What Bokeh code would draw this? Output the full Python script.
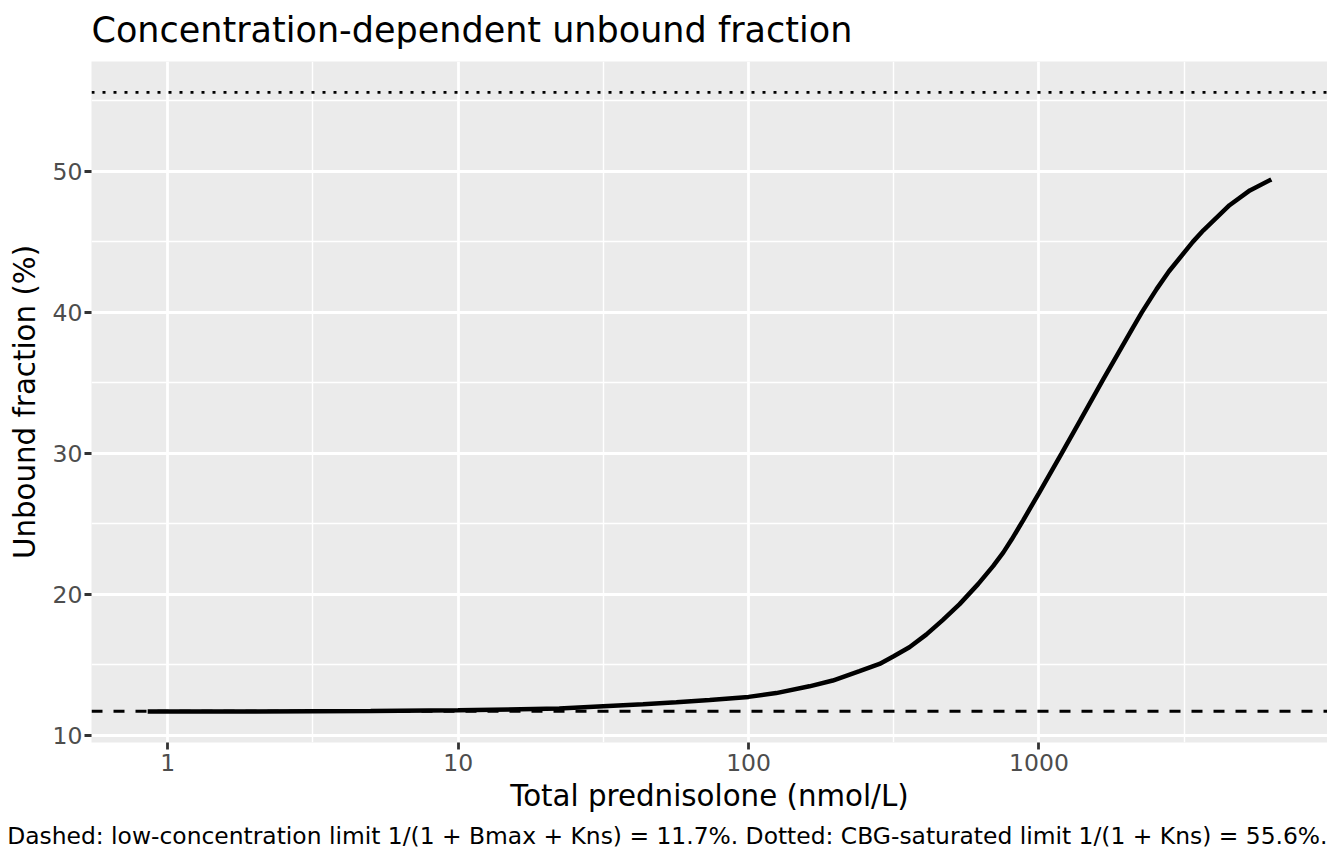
import math
from bokeh.plotting import figure
from bokeh.layouts import row
from bokeh.models import Span, Title, FixedTicker, NumeralTickFormatter, Range1d, Spacer
from bokeh.embed import file_html
from bokeh.resources import INLINE

# ---- data ----
conc = [0.853, 2, 5, 10, 22.3, 31.6, 43.3, 56.4, 73.5, 100, 124.5, 162, 195,
        241, 282.5, 316, 358, 409, 466, 533, 617, 695, 754, 805, 881, 1000,
        1197, 1384, 1664, 2104, 2260, 2541, 2800, 3386, 3683, 4530, 5323, 6310]
fu_pct = [11.68, 11.69, 11.72, 11.77, 11.89, 12.06, 12.19, 12.34, 12.50, 12.72,
          12.99, 13.47, 13.88, 14.54, 15.06, 15.6, 16.24, 17.14, 18.17, 19.3,
          20.72, 22.0, 22.97, 23.88, 25.23, 27.18, 30.0, 32.3, 35.24, 38.9, 40.0,
          41.65, 42.9, 45.0, 45.82, 47.6, 48.65, 49.43]
low_limit = 11.7      # dashed
sat_limit = 55.6      # dotted
x_ticks = [1, 10, 100, 1000]
x_minor = [10 ** 0.5, 10 ** 1.5, 10 ** 2.5, 10 ** 3.5]
y_ticks = [10, 20, 30, 40, 50]
y_minor = [15, 25, 35, 45, 55]

title_text = "Concentration-dependent unbound fraction"
x_label = "Total prednisolone (nmol/L)"
y_label = "Unbound fraction (%)"
caption = ("Dashed: low-concentration limit 1/(1 + Bmax + Kns) = 11.7%. "
           "Dotted: CBG-saturated limit 1/(1 + Kns) = 55.6%.")

# ggplot-like 5% expansion
lx0, lx1 = math.log10(min(conc)), math.log10(max(conc))
dx = 0.05 * (lx1 - lx0)
y0, y1 = min(fu_pct + [low_limit]), max(fu_pct + [sat_limit])
dy = 0.05 * (y1 - y0)

FONT = "DejaVu Sans"

p = figure(frame_width=1236, frame_height=681,
           x_axis_type="log",
           x_range=Range1d(10 ** (lx0 - dx), 10 ** (lx1 + dx)),
           y_range=Range1d(y0 - dy, y1 + dy),
           output_backend="svg", toolbar_location=None,
           min_border_left=0, min_border_right=0,
           min_border_top=0, min_border_bottom=0)

p.background_fill_color = "#EBEBEB"
p.border_fill_color = "white"
p.outline_line_color = None

# title
p.title.text = title_text
p.title.text_font = FONT
p.title.text_font_size = "35px"
p.title.text_font_style = "normal"
p.title.text_color = "black"
p.title.align = "left"
p.title.standoff = 23

# grids
for g in (p.xgrid, p.ygrid):
    g.grid_line_color = "white"
    g.grid_line_width = 2.8
    g.minor_grid_line_color = "white"
    g.minor_grid_line_width = 1.4

p.xaxis.ticker = FixedTicker(ticks=x_ticks, minor_ticks=x_minor)
p.yaxis.ticker = FixedTicker(ticks=y_ticks, minor_ticks=y_minor)
p.xaxis.formatter = NumeralTickFormatter(format="0")

for ax in (p.xaxis, p.yaxis):
    ax.axis_line_color = None
    ax.major_tick_out = 7
    ax.major_tick_in = 0
    ax.major_tick_line_color = "#333333"
    ax.major_tick_line_width = 2.8
    ax.minor_tick_line_color = None
    ax.major_label_text_font = FONT
    ax.major_label_text_font_size = "23.5px"
    ax.major_label_text_color = "#4D4D4D"
    ax.axis_label_text_font = FONT
    ax.axis_label_text_font_size = "29.3px"
    ax.axis_label_text_font_style = "normal"
    ax.axis_label_text_color = "black"

p.xaxis.axis_label = x_label
p.yaxis.axis_label = y_label
p.xaxis.major_label_standoff = 4
p.xaxis.axis_label_standoff = 5
p.yaxis.major_label_standoff = 2
p.yaxis.axis_label_standoff = 8

# reference lines
p.add_layout(Span(location=low_limit, dimension="width", line_color="black",
                  line_width=2.8, line_dash="11 11"))
p.add_layout(Span(location=sat_limit, dimension="width", line_color="black",
                  line_width=2.8, line_dash="3 8"))

# curve
p.line(conc, fu_pct, line_color="black", line_width=4.5)

# caption
p.add_layout(Title(text=caption, align="right", text_font=FONT,
                   text_font_size="23.4px", text_font_style="normal",
                   text_color="black", standoff=9), "below")

page = row(Spacer(width=4, height=10), p, styles={"margin-top": "-4px"})

open("out.html", "w").write(file_html(page, INLINE))
